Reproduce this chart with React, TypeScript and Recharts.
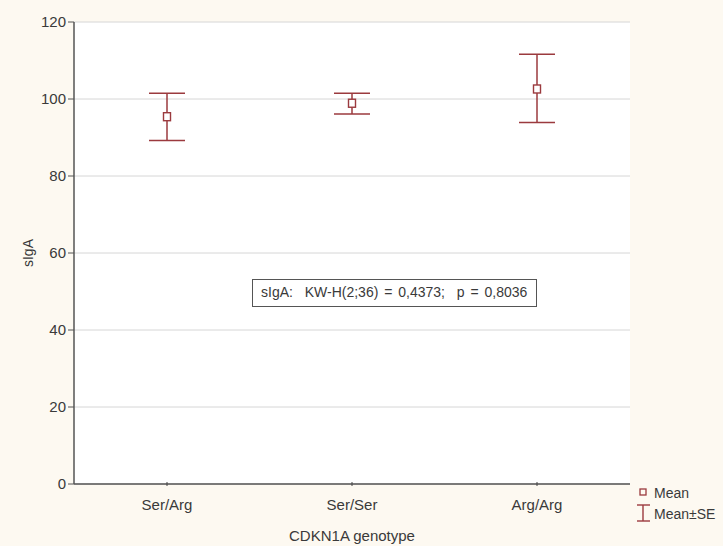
import React from "react";
import { ComposedChart, Line, XAxis, YAxis, CartesianGrid, ErrorBar } from "recharts";

const categories = ["Ser/Arg", "Ser/Ser", "Arg/Arg"];
const means = [95.4, 98.9, 102.6];
const upper = [101.5, 101.5, 111.6];
const lower = [89.2, 96.1, 93.9];
const yTicks = [0, 20, 40, 60, 80, 100, 120];

const data = categories.map((name, i) => ({
  name,
  mean: means[i],
  err: [means[i] - lower[i], upper[i] - means[i]],
}));

const RED = "#9b3a3e";
const FONT = "'Liberation Sans', Arial, sans-serif";
const TXT = "#3a3a3a";

const SquareDot = (props: any) => {
  const { cx, cy } = props;
  if (cx == null || cy == null) return null;
  return <rect x={cx - 3.5} y={cy - 4} width={7} height={8} fill="#fff" stroke={RED} strokeWidth={1.4} />;
};

const XTick = (props: any) => {
  const { x, y, payload } = props;
  return (
    <g>
      <line x1={x} y1={y} x2={x} y2={y - 4} stroke="#444" strokeWidth={1} />
      <text x={x} y={y + 24} textAnchor="middle" fontSize={15} fill={TXT} fontFamily={FONT}>
        {payload.value}
      </text>
    </g>
  );
};

export default function App() {
  return (
    <div style={{ position: "absolute", left: 0, top: 0, width: 723, height: 546, background: "#fdf9f1" }}>
      <ComposedChart
        width={723}
        height={546}
        data={data}
        margin={{ top: 22, right: 93, bottom: 0, left: 0 }}
      >
        <CartesianGrid vertical={false} stroke="#d6d6d6" fill="#ffffff" />
        <XAxis
          dataKey="name"
          height={62}
          padding={{ left: 93, right: 93 }}
          axisLine={{ stroke: "#555", strokeWidth: 1.5 }}
          tickLine={false}
          tickSize={0}
          tick={<XTick />}
          label={{ value: "CDKN1A genotype", position: "insideBottom", offset: 5, fontSize: 15, fill: TXT, fontFamily: FONT }}
        />
        <XAxis xAxisId="top" orientation="top" dataKey="name" height={0} tick={false} tickLine={false} axisLine={{ stroke: "#555", strokeWidth: 1.5 }} />
        <YAxis
          width={74}
          domain={[0, 120]}
          ticks={yTicks}
          interval={0}
          axisLine={{ stroke: "#555", strokeWidth: 1.5 }}
          tickLine={{ stroke: "#555" }}
          tickSize={6}
          tick={{ fontSize: 15, fill: TXT, fontFamily: FONT }}
          label={{ value: "sIgA", angle: -90, position: "insideLeft", offset: 28, fontSize: 14, fill: TXT, fontFamily: FONT, style: { textAnchor: "middle" } }}
        />
        <YAxis yAxisId="right" orientation="right" width={0} domain={[0, 120]} tick={false} tickLine={false} axisLine={{ stroke: "#555", strokeWidth: 1.5 }} />
        <Line
          dataKey="mean"
          stroke="none"
          isAnimationActive={false}
          dot={<SquareDot />}
          activeDot={false}
        >
          <ErrorBar dataKey="err" direction="y" width={18} stroke={RED} strokeWidth={1.5} />
        </Line>
      </ComposedChart>

      <div
        style={{
          position: "absolute",
          left: 252,
          top: 279,
          width: 285,
          height: 28,
          border: "1.5px solid #555",
          background: "#fff",
          boxSizing: "border-box",
          fontFamily: FONT,
          fontSize: 14,
          wordSpacing: 2,
          color: TXT,
          lineHeight: "25px",
          paddingLeft: 8,
          whiteSpace: "pre",
        }}
      >
        {"sIgA:  KW-H(2;36) = 0,4373;  p = 0,8036"}
      </div>

      <svg style={{ position: "absolute", left: 0, top: 0 }} width={723} height={546}>
        <rect x={640} y={489} width={6} height={6} fill="none" stroke={RED} strokeWidth={1.3} />
        <text x={654} y={498} fontSize={14} fill={TXT} fontFamily={FONT}>Mean</text>
        <line x1={643} y1={505} x2={643} y2={521} stroke={RED} strokeWidth={1.4} />
        <line x1={637} y1={505} x2={650} y2={505} stroke={RED} strokeWidth={1.4} />
        <line x1={637} y1={521} x2={650} y2={521} stroke={RED} strokeWidth={1.4} />
        <text x={654} y={519} fontSize={14} fill={TXT} fontFamily={FONT}>Mean±SE</text>
      </svg>
    </div>
  );
}
